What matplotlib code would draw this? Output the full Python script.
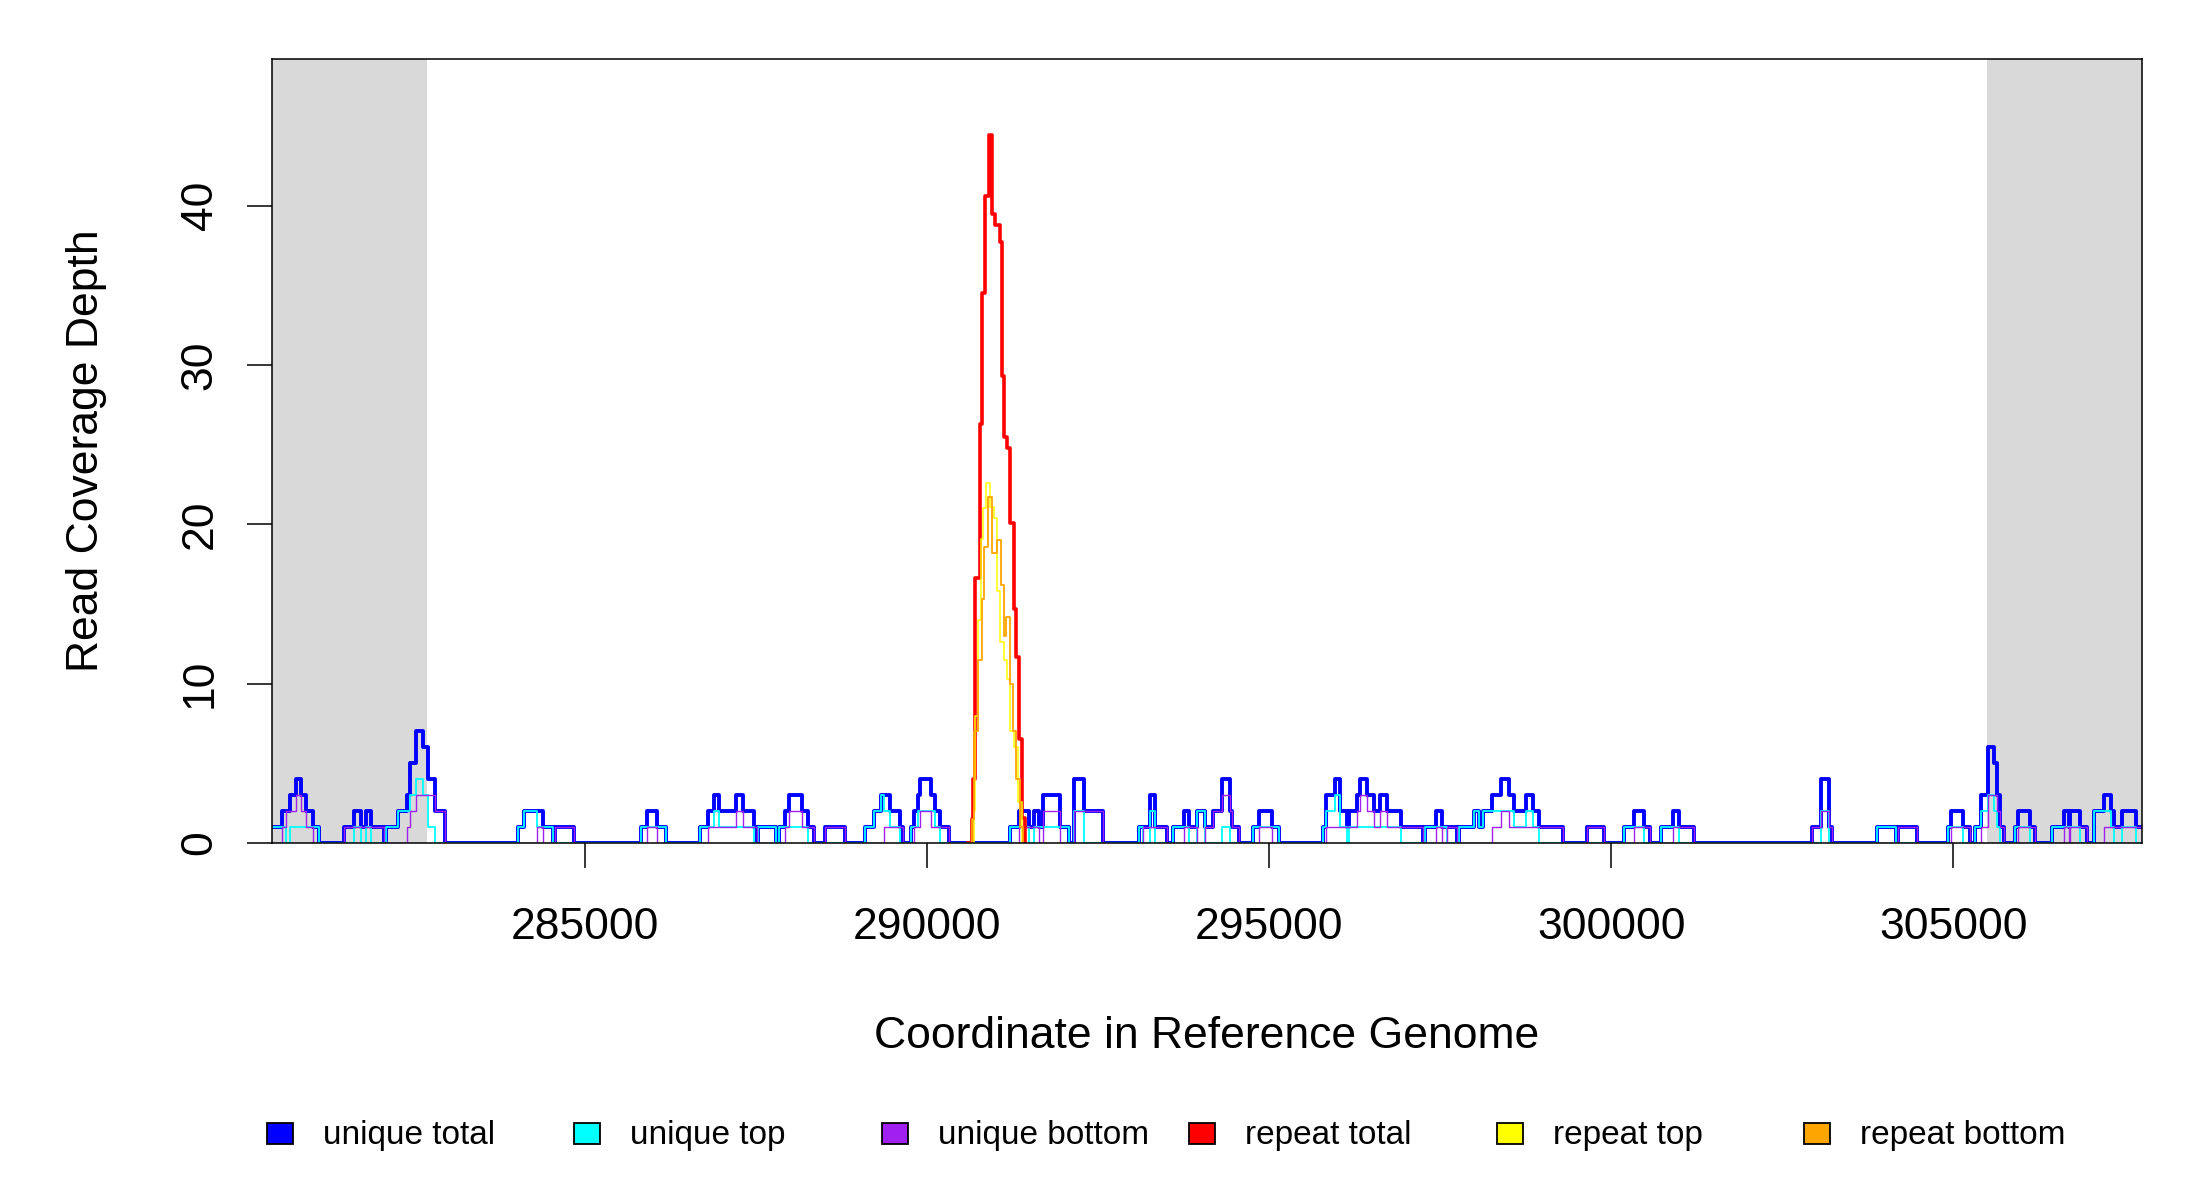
import matplotlib
matplotlib.use("Agg")
import matplotlib.pyplot as plt
from matplotlib.patches import Rectangle

plt.rcParams['font.family'] = ['Liberation Sans', 'DejaVu Sans']

# plotted window and grey flanking regions (bp)
x_start = 280420
x_end = 307760
flank_left = (280420, 282680)
flank_right = (305500, 307760)
y_top = 49.2

# unique total (blue)
ut_pos = [280420, 280566, 280687, 280775, 280843, 280921, 281019, 281111,
          281477, 281623, 281720, 281798, 281872, 282062,
          282091, 282261, 282393, 282442, 282529, 282627, 282695, 282807, 282944,
          284011, 284108, 284381, 284527, 284557, 284839,
          285814, 285902, 286048, 286184,
          286672, 286788, 286886, 286949, 287207, 287305, 287471, 287510, 287524, 287792,
          287826, 287923, 287972, 288167, 288250, 288338, 288508, 288791,
          289093, 289215, 289322, 289458, 289595, 289644,
          289761, 289809, 289858, 289897, 290053, 290116, 290189, 290321,
          291203, 291335, 291481, 291554, 291627, 291690, 291934, 292066, 292139, 292295, 292568,
          293089, 293259, 293332, 293503,
          293586, 293757, 293834, 293941, 294054, 294185, 294307, 294419, 294453, 294551,
          294760, 294844, 295039, 295136,
          295784, 295833, 295965, 296038, 296135, 296160, 296281, 296330, 296428, 296535,
          296622, 296720, 296925, 297246,
          297271, 297441, 297524, 297743,
          297768, 297997, 298060, 298119, 298255, 298386, 298499, 298572, 298752, 298854, 298951, 299302,
          299653, 299887, 300189, 300326, 300482, 300570, 300725, 300901, 300984, 301203,
          302934, 303070, 303177, 303226, 303884, 304167, 304191, 304469,
          304917, 304966, 305141, 305248,
          305321, 305404, 305502, 305599, 305638, 305687, 305736,
          305906, 305945, 306125, 306199,
          306442, 306622, 306686, 306710, 306856, 306954,
          307061, 307207, 307305, 307344, 307466, 307675, 307760]
ut_depth = [1, 2, 3, 4, 3, 2, 1, 0,
            1, 2, 1, 2, 1, 0,
            1, 2, 3, 5, 7, 6, 4, 2, 0,
            1, 2, 1, 0, 1, 0,
            1, 2, 1, 0,
            1, 2, 3, 2, 3, 2, 1, 0, 1, 0,
            1, 2, 3, 2, 1, 0, 1, 0,
            1, 2, 3, 2, 1, 0,
            1, 2, 3, 4, 3, 2, 1, 0,
            1, 2, 1, 2, 1, 3, 1, 0, 4, 2, 0,
            1, 3, 1, 0,
            1, 2, 1, 2, 1, 2, 4, 2, 1, 0,
            1, 2, 1, 0,
            1, 3, 4, 2, 1, 2, 3, 4, 3, 2,
            3, 2, 1, 0,
            1, 2, 1, 0,
            1, 2, 1, 2, 3, 4, 3, 2, 3, 2, 1, 0,
            1, 0, 1, 2, 1, 0, 1, 2, 1, 0,
            1, 4, 1, 0, 1, 0, 1, 0,
            1, 2, 1, 0,
            1, 3, 6, 5, 3, 1, 0,
            1, 2, 1, 0,
            1, 2, 1, 2, 1, 0,
            2, 3, 2, 1, 2, 1, 1]

# unique top (cyan)
utop_pos = [280420, 280620, 280687, 281111, 281623, 281720, 281798, 281872,
            282091, 282261, 282442, 282529, 282627, 282695, 282807,
            284011, 284108, 284290, 284527, 285814, 286184,
            286672, 286886, 286949, 287471, 287524, 287792, 287826, 288250,
            289093, 289215, 289322, 289370, 289458, 289595,
            289761, 289858, 290116, 290189,
            291203, 291481, 291554, 292066, 292139, 292295,
            293089, 293150, 293259, 293332,
            293586, 293834, 293941, 294054, 294307, 294419,
            294760, 295136, 295784, 295833, 295965, 296038, 296135, 296160, 296925,
            297271, 297600, 297768, 297997, 298060, 298119, 298572, 298752, 298854, 298951,
            300189, 300482, 300725, 300984, 303070, 303177, 303884, 304167,
            304917, 305141, 305321, 305404, 305502, 305599, 305638, 305687,
            305906, 306125, 306442, 306856,
            307061, 307305, 307344, 307466, 307675, 307760]
utop_depth = [1, 0, 1, 0, 1, 0, 1, 0,
              1, 2, 3, 4, 3, 1, 0,
              1, 2, 1, 0, 1, 0,
              1, 2, 1, 0, 1, 0, 1, 0,
              1, 2, 3, 2, 1, 0,
              1, 2, 1, 0,
              1, 0, 1, 0, 2, 0,
              1, 0, 2, 0,
              1, 0, 2, 0, 1, 0,
              1, 0, 1, 2, 3, 1, 0, 1, 0,
              1, 0, 1, 2, 1, 2, 1, 2, 1, 0,
              1, 0, 1, 0, 2, 0, 1, 0,
              1, 0, 1, 2, 3, 2, 1, 0,
              1, 0, 1, 0,
              2, 1, 0, 1, 0, 0]

# unique bottom (purple)
ubot_pos = [280420, 280566, 280620, 280775, 280843, 280921, 281019,
            281477, 282062, 282393, 282442, 282529, 282807, 282944,
            284290, 284381, 284557, 284839, 285902, 286048,
            286788, 287207, 287305, 287510,
            287923, 287972, 288167, 288338, 288508, 288791,
            289370, 289644, 289809, 289897, 290053, 290321,
            291335, 291627, 291690, 291934, 292139, 292568,
            293150, 293503, 293757, 293941, 294054, 294185, 294307, 294419, 294453, 294551,
            294844, 295039, 295833, 296281, 296330, 296428, 296535, 296622, 296720, 297246,
            297441, 297524, 297600, 297743, 298255, 298386, 298499, 299302,
            299653, 299887, 300326, 300570, 300901, 301203,
            302934, 303070, 303177, 303226, 304191, 304469, 304966, 305248,
            305404, 305502, 305638, 305687, 305736, 305945, 306199,
            306622, 306686, 306710, 306954, 307207, 307760]
ubot_depth = [0, 1, 2, 3, 2, 1, 0,
              1, 0, 1, 2, 3, 2, 0,
              1, 0, 1, 0, 1, 0,
              1, 2, 1, 0,
              1, 2, 1, 0, 1, 0,
              1, 0, 1, 2, 1, 0,
              1, 0, 2, 0, 2, 0,
              1, 0, 1, 0, 1, 2, 3, 2, 1, 0,
              1, 0, 1, 2, 3, 2, 1, 2, 1, 0,
              1, 0, 1, 0, 1, 2, 1, 0,
              1, 0, 1, 0, 1, 0,
              1, 2, 1, 0, 1, 0, 1, 0,
              1, 3, 2, 1, 0, 1, 0,
              1, 0, 1, 0, 1, 1]

# repeat total (red)
rt_pos = [290600, 290650, 290665, 290705, 290766, 290800, 290849, 290897, 290946,
          290995, 291058, 291092, 291126, 291165, 291214, 291271, 291300, 291336,
          291385, 291430]
rt_depth = [0, 1.5, 4, 16.6, 26.3, 34.5, 40.6, 44.4, 39.5,
            38.8, 37.7, 29.3, 25.5, 24.8, 20.1, 14.7, 11.7, 6.5,
            1.6, 0]

# repeat top (yellow)
rtop_pos = [290600, 290680, 290700, 290740, 290790, 290813, 290860, 290918, 290969,
            291018, 291070, 291115, 291160, 291210, 291270, 291320, 291380]
rtop_depth = [0, 2, 8, 14, 19.1, 21, 22.6, 21.1, 20.4,
              15.8, 12.6, 11.5, 10.3, 7, 6, 2.6, 0]

# repeat bottom (orange)
rbot_pos = [290600, 290655, 290690, 290740, 290800, 290823, 290881, 290945, 291018,
            291077, 291125, 291155, 291213, 291260, 291300, 291350, 291400]
rbot_depth = [0, 1.5, 7, 11.5, 15.3, 18.6, 21.7, 18.2, 19.0,
              16.2, 13, 14.2, 10, 7, 4, 1, 0]

names = ['unique total', 'unique top', 'unique bottom', 'repeat total', 'repeat top', 'repeat bottom']
colors = ['#0000FF', '#00FFFF', '#A020F0', '#FF0000', '#FFFF00', '#FFA500']
series = [(ut_pos, ut_depth, 2.8), (utop_pos, utop_depth, 1.3), (ubot_pos, ubot_depth, 1.0),
          (rt_pos, rt_depth, 2.6), (rtop_pos, rtop_depth, 1.1), (rbot_pos, rbot_depth, 1.3)]

fig = plt.figure(figsize=(22, 12), dpi=100)
ax = fig.add_axes([272/2200, 1-843/1200, (2142-272)/2200, (843-59)/1200])

ax.axvspan(flank_left[0], flank_left[1], color='#D9D9D9', lw=0, zorder=0)
ax.axvspan(flank_right[0], flank_right[1], color='#D9D9D9', lw=0, zorder=0)

for (pos, depth, lw), c in zip(series, colors):
    ax.step(pos, depth, where='post', color=c, lw=lw, zorder=2)

ax.set_xlim(x_start, x_end)
ax.set_ylim(0, y_top)
ax.set_xticks([285000, 290000, 295000, 300000, 305000])
ax.set_xticklabels(['285000', '290000', '295000', '300000', '305000'])
ax.set_yticks([0, 10, 20, 30, 40])
ax.set_yticklabels(['0', '10', '20', '30', '40'], rotation=90, va='center')
ax.tick_params(axis='both', direction='out', length=18, width=1.1, labelsize=32, color='black')
ax.tick_params(axis='x', pad=28)
ax.tick_params(axis='y', pad=19)
for s in ax.spines.values():
    s.set_linewidth(1.1)

fig.text((272+2142)/2/2200, 1-1036/1200, 'Coordinate in Reference Genome', fontsize=32,
         ha='center', va='center')
fig.text(87/2200, 1-451/1200, 'Read Coverage Depth', fontsize=32, rotation=90,
         ha='center', va='center')

# legend row
for i, (n, c) in enumerate(zip(names, colors)):
    x0 = 267 + i*307.4
    fig.add_artist(Rectangle((x0/2200, 1-1144/1200), 26/2200, 21/1200, transform=fig.transFigure,
                             facecolor=c, edgecolor='black', lw=1.3))
    fig.text((x0 + 56)/2200, 1-1144/1200, n, fontsize=24, ha='left', va='baseline')

fig.savefig('out.png', dpi=100)
